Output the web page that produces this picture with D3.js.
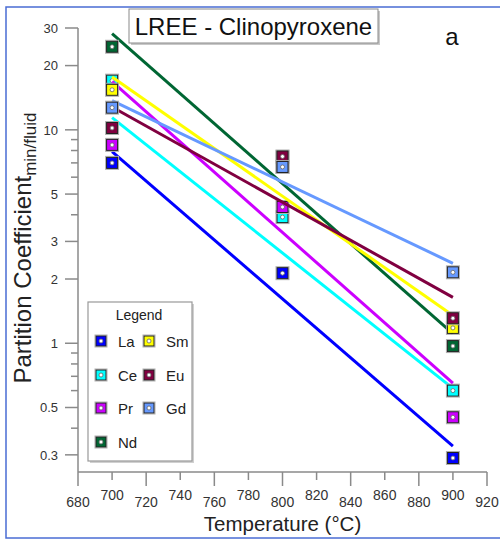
<!DOCTYPE html>
<html>
<head>
<meta charset="utf-8">
<script src="https://cdn.jsdelivr.net/npm/d3@7"></script>
<style>
  body { margin: 0; background: #fff; }
  svg text { font-family: "Liberation Sans", Arial, sans-serif; }
</style>
</head>
<body>
<div id="chart"></div>
<script>
// data
var temps = [700, 800, 900];
var elements = ["La", "Ce", "Pr", "Nd", "Sm", "Eu", "Gd"];
var colors = ["#0000ff", "#00ffff", "#cc00ff", "#006633", "#ffff00", "#800040", "#6699ff"];

// measured partition coefficients at 700, 800, 900 °C
var La = [7.0, 2.13, 0.29];
var Ce = [17.0, 3.9, 0.60];
var Pr = [8.5, 4.35, 0.45];
var Nd = [24.5, 7.45, 0.97];
var Sm = [15.4, 6.7, 1.18];
var Eu = [10.2, 7.5, 1.31];
var Gd = [12.7, 6.7, 2.15];

// fitted trend lines (value at 700 and at 900 °C)
var fitTemps = [700, 900];
var fitStart = [7.9, 11.4, 16.8, 28.2, 17.7, 12.8, 13.7];
var fitEnd = [0.33, 0.615, 0.65, 1.11, 1.35, 1.64, 2.37];

var yMajor = [0.3, 0.5, 1, 2, 3, 5, 10, 20, 30];
var yMinor = [0.4, 0.6, 0.7, 0.8, 0.9, 4, 6, 7, 8, 9];
var xTicks = [680, 700, 720, 740, 760, 780, 800, 820, 840, 860, 880, 900, 920];

var measured = [La, Ce, Pr, Nd, Sm, Eu, Gd];

var W = 500, H = 539;
var svg = d3.select("#chart").append("svg")
    .attr("width", W).attr("height", H);

// outer blue frame
svg.append("rect")
    .attr("x", 6).attr("y", 7).attr("width", 500).attr("height", 531)
    .attr("fill", "none").attr("stroke", "#4a6cd4").attr("stroke-width", 1.5);

var x = d3.scaleLinear().domain([680, 920]).range([78, 487]);
var y = d3.scaleLog().domain([0.266, 30]).range([466, 28]);

var axisColor = "#8a8a8a";

// X axis
var xAxis = svg.append("g").attr("transform", "translate(0,472)");
xAxis.append("line")
    .attr("x1", x(680)).attr("x2", x(920))
    .attr("stroke", axisColor).attr("stroke-width", 1.5);
xAxis.selectAll(".xt").data(xTicks).enter().append("line")
    .attr("x1", function(d) { return x(d); })
    .attr("x2", function(d) { return x(d); })
    .attr("y1", 0)
    .attr("y2", function(d, i) { return i % 2 == 0 ? 14 : 8; })
    .attr("stroke", axisColor).attr("stroke-width", 1.5);
xAxis.selectAll(".xl").data(xTicks).enter().append("text")
    .attr("x", function(d) { return x(d); })
    .attr("y", function(d, i) { return i % 2 == 0 ? 35 : 28; })
    .attr("text-anchor", "middle")
    .attr("font-size", 14)
    .attr("fill", "#333")
    .text(function(d) { return d; });

svg.append("text")
    .attr("x", x(800)).attr("y", 531)
    .attr("text-anchor", "middle")
    .attr("font-size", 20.5)
    .attr("fill", "#222")
    .text("Temperature (°C)");

// Y axis
var yAxis = svg.append("g").attr("transform", "translate(78,0)");
yAxis.append("line")
    .attr("y1", y(30)).attr("y2", 472)
    .attr("stroke", axisColor).attr("stroke-width", 1.5);
yAxis.selectAll(".ymaj").data(yMajor).enter().append("line")
    .attr("x1", -13).attr("x2", 0)
    .attr("y1", function(d) { return y(d); })
    .attr("y2", function(d) { return y(d); })
    .attr("stroke", axisColor).attr("stroke-width", 1.5);
yAxis.selectAll(".ymin").data(yMinor).enter().append("line")
    .attr("x1", -7).attr("x2", 0)
    .attr("y1", function(d) { return y(d); })
    .attr("y2", function(d) { return y(d); })
    .attr("stroke", axisColor).attr("stroke-width", 1.5);
yAxis.selectAll(".yl").data(yMajor).enter().append("text")
    .attr("x", -20)
    .attr("y", function(d) { return y(d); })
    .attr("dy", "0.36em")
    .attr("text-anchor", "end")
    .attr("font-size", 13)
    .attr("fill", "#333")
    .text(function(d) { return d; });

var ylab = svg.append("text")
    .attr("transform", "translate(31,248) rotate(-90)")
    .attr("text-anchor", "middle")
    .attr("fill", "#222");
ylab.append("tspan").attr("font-size", 24).text("Partition Coefficient");
ylab.append("tspan").attr("font-size", 17).attr("dy", 5).text("min/fluid");

// marker helper
function marker(g, cx, cy, size, col) {
  g.append("rect")
      .attr("x", cx - size / 2 - 1).attr("y", cy - size / 2 - 1)
      .attr("width", size + 2).attr("height", size + 2)
      .attr("fill", "none").attr("stroke", "#b0b0b0").attr("stroke-width", 1);
  g.append("rect")
      .attr("x", cx - size / 2).attr("y", cy - size / 2)
      .attr("width", size).attr("height", size)
      .attr("fill", col).attr("stroke", "#222").attr("stroke-width", 1);
  g.append("circle")
      .attr("cx", cx).attr("cy", cy).attr("r", 2)
      .attr("fill", "#fff").attr("stroke", "#666").attr("stroke-width", 0.8);
}

// series: trend line then its markers
elements.forEach(function(el, i) {
  var g = svg.append("g");
  var pts = [[fitTemps[0], fitStart[i]], [fitTemps[1], fitEnd[i]]];
  g.append("path")
      .datum(pts)
      .attr("d", d3.line()
        .x(function(d) { return x(d[0]); })
        .y(function(d) { return y(d[1]); }))
      .attr("fill", "none")
      .attr("stroke", colors[i])
      .attr("stroke-width", 3);
  measured[i].forEach(function(v, j) {
    marker(g, x(temps[j]), y(v), 11, colors[i]);
  });
});

// title box
svg.append("rect")
    .attr("x", 131).attr("y", 11).attr("width", 249).attr("height", 34)
    .attr("fill", "#c8c8c8");
svg.append("rect")
    .attr("x", 129).attr("y", 9).attr("width", 249).attr("height", 34)
    .attr("fill", "#fff").attr("stroke", "#8a8a8a").attr("stroke-width", 1);
svg.append("text")
    .attr("x", 253.5).attr("y", 35)
    .attr("text-anchor", "middle")
    .attr("font-size", 24)
    .attr("fill", "#111")
    .text("LREE - Clinopyroxene");

svg.append("text")
    .attr("x", 452).attr("y", 45)
    .attr("text-anchor", "middle")
    .attr("font-size", 24)
    .attr("fill", "#111")
    .text("a");

// legend
var leg = svg.append("g");
leg.append("rect")
    .attr("x", 90).attr("y", 304).attr("width", 104).attr("height", 159)
    .attr("fill", "#d0d0d0");
leg.append("rect")
    .attr("x", 88).attr("y", 302).attr("width", 104).attr("height", 159)
    .attr("fill", "#fff").attr("stroke", "#999").attr("stroke-width", 1.2);
leg.append("text")
    .attr("x", 139).attr("y", 320)
    .attr("text-anchor", "middle")
    .attr("font-size", 14)
    .attr("fill", "#222")
    .text("Legend");

var rowY = [341, 375, 408, 442];
elements.forEach(function(el, i) {
  var col = i < 4 ? 0 : 1;
  var row = i < 4 ? i : i - 4;
  var sx = col == 0 ? 101 : 149;
  var sy = rowY[row];
  var g = leg.append("g");
  marker(g, sx, sy, 10, colors[i]);
  g.append("text")
      .attr("x", sx + 17).attr("y", sy + 5.5)
      .attr("font-size", 15)
      .attr("fill", "#222")
      .text(el);
});
</script>
</body>
</html>
